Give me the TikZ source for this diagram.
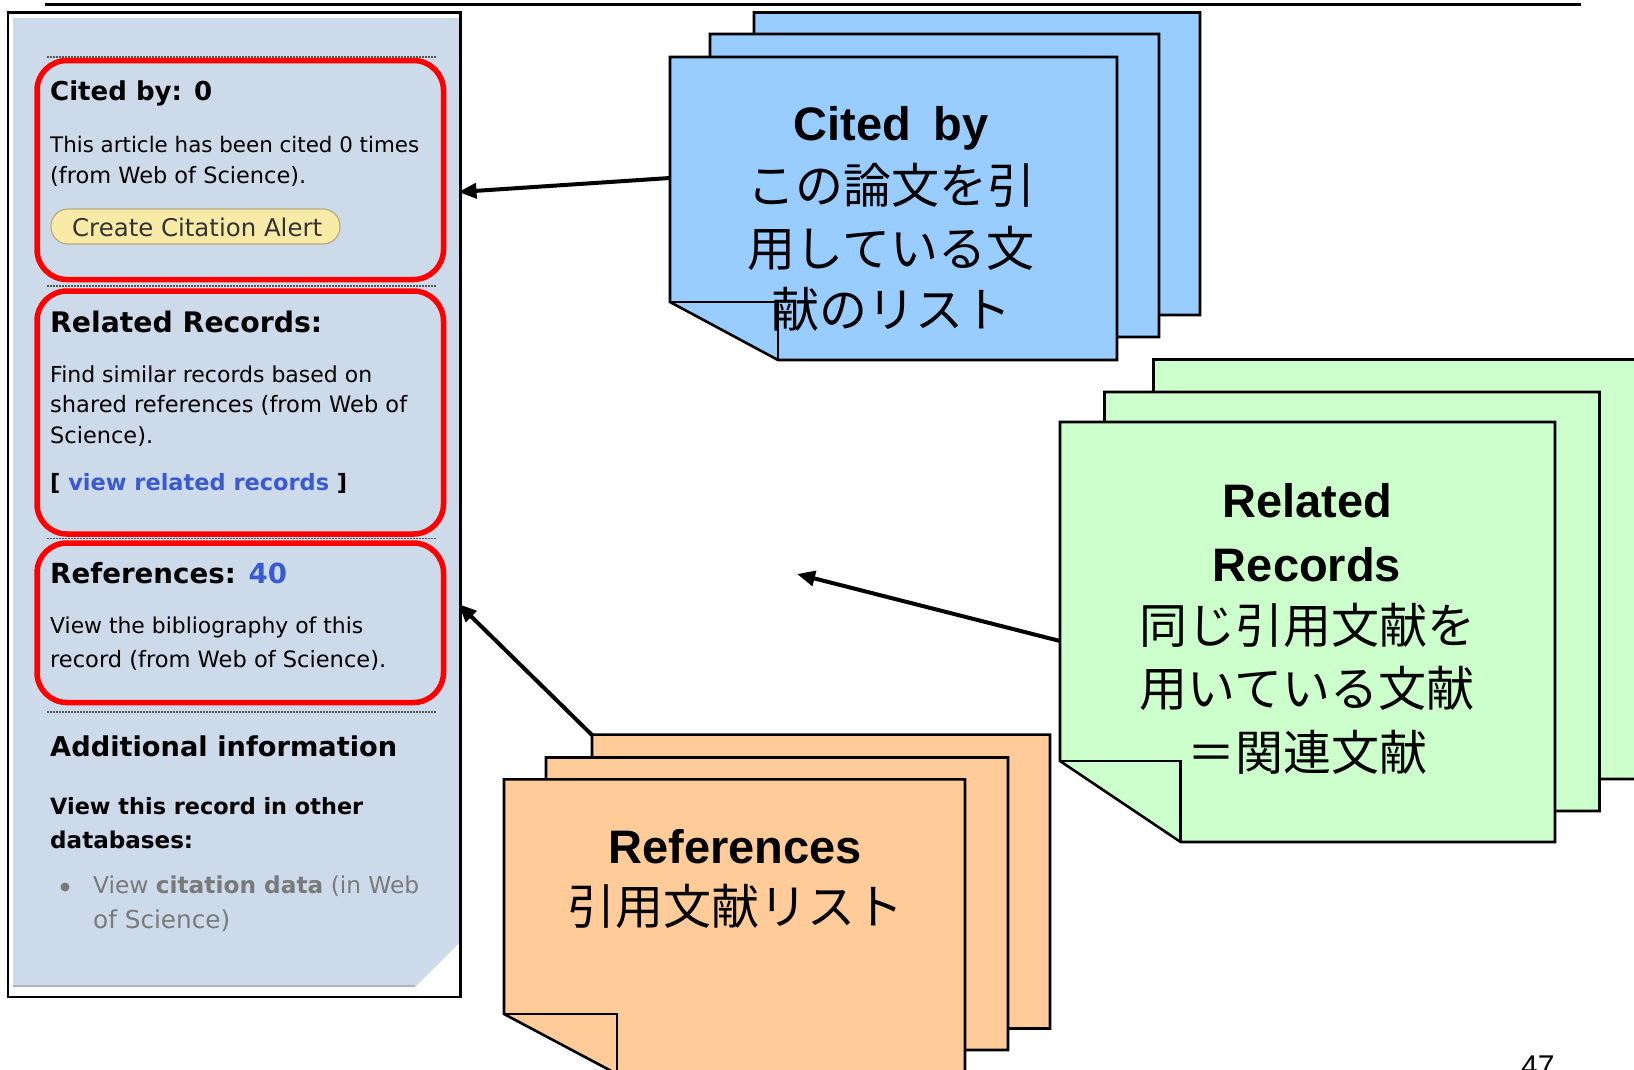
\documentclass[tikz,border=0pt]{standalone}
\usepackage{fontspec}
\usepackage{graphicx}
\usetikzlibrary{arrows.meta}
\setmainfont{DejaVu Sans}
\newfontfamily\jpfont{Noto Sans CJK JP}
\newfontfamily\latfont{Liberation Sans}
\definecolor{panelbg}{HTML}{CCDAEA}
\definecolor{sheetblue}{HTML}{99CCFF}
\definecolor{sheetgreen}{HTML}{CCFFCC}
\definecolor{sheetorange}{HTML}{FFCC99}
\definecolor{linkblue}{HTML}{3A5BD0}
\definecolor{btnA}{HTML}{F8EBA8}
\definecolor{btnB}{HTML}{FFFDF0}
\definecolor{btnborder}{HTML}{B8AC80}
\definecolor{btntext}{HTML}{333333}
\definecolor{softgray}{HTML}{7A7A7A}
\definecolor{dotgray}{HTML}{555555}
\newcommand{\fitw}[2]{\resizebox{#1pt}{!}{#2}}
\begin{document}
\begin{tikzpicture}[x=1pt,y=-1pt,
  ptxt/.style={anchor=base west, inner sep=0pt, font=\fontsize{20}{24}\selectfont},
  sheet/.style={draw=black, line width=2.6pt, line join=miter},
  lattxt/.style={anchor=base, inner sep=0pt, font=\latfont\bfseries\fontsize{47}{50}\selectfont},
  jptxt/.style={anchor=base, inner sep=0pt, font=\jpfont\fontsize{48}{50}\selectfont},
  conn/.style={line width=4pt, -{Triangle[length=18pt,width=15pt]}},
  redbox/.style={draw=red, line width=5.5pt, rounded corners=30pt},
  dots/.style={draw=dotgray, line width=1.5pt, dash pattern=on 1.5pt off 1.5pt}
]
\useasboundingbox (0,0) rectangle (1634,1069);
\clip (0,0) rectangle (1634,1069);

% top rule
\draw[line width=3pt] (45,4) -- (1581,4);

% ---------- left panel ----------
\draw[line width=2.2pt, fill=white] (8,12.5) rectangle (460.5,997);
\fill[panelbg] (13,18) -- (459.5,18) -- (459.5,943) -- (415,987) -- (13,987) -- cycle;
\draw[gray!60, line width=1.5pt] (13,986) -- (415,986);
\draw[line width=2.2pt] (460.5,12.5) -- (460.5,997);

\draw[dots] (47,57) -- (437,57);
\draw[dots] (47,286) -- (437,286);
\draw[dots] (47,538.5) -- (437,538.5);
\draw[dots] (47,712) -- (437,712);

\draw[redbox] (37,60.5) rectangle (443.5,279.5);
\draw[redbox] (37,291) rectangle (443.5,534);
\draw[redbox] (37,543) rectangle (443.5,702.5);

\node[ptxt] (h1) at (50,100) {\fitw{162}{\bfseries Cited by: 0}};
\node[ptxt] (l1a) at (50,152) {\fitw{369}{This article has been cited 0 times}};
\node[ptxt] (l1b) at (50,183) {\fitw{256}{(from Web of Science).}};
\path[draw=btnborder, line width=1.2pt, top color=btnA, middle color=btnB, bottom color=btnA, rounded corners=17pt] (51,209) rectangle (340,244);
\node[ptxt] (btn) at (72,236) {\fitw{250}{\color{btntext}Create Citation Alert}};

\node[ptxt] (h2) at (50,332) {\fitw{272}{\bfseries Related Records:}};
\node[ptxt] (l2a) at (50,382) {\fitw{322}{Find similar records based on}};
\node[ptxt] (l2b) at (50,412) {\fitw{357}{shared references (from Web of}};
\node[ptxt] (l2c) at (50,443) {\fitw{103}{Science).}};
\node[ptxt] (l2d) at (50,490) {\fitw{297}{\bfseries [ \textcolor{linkblue}{view related records} ]}};

\node[ptxt] (h3) at (50,583) {\fitw{237}{\bfseries References: \textcolor{linkblue}{40}}};
\node[ptxt] (l3a) at (50,633) {\fitw{313}{View the bibliography of this}};
\node[ptxt] (l3b) at (50,667) {\fitw{336}{record (from Web of Science).}};

\node[ptxt] (h4) at (50,756) {\fitw{347}{\bfseries Additional information}};
\node[ptxt] (l4a) at (50,814) {\fitw{313}{\bfseries View this record in other}};
\node[ptxt] (l4b) at (50,848) {\fitw{143}{\bfseries databases:}};
\fill[softgray] (65,887) circle (4.5);
\node[ptxt] (l4c) at (93,893) {\fitw{326}{\color{softgray}View \textbf{citation data} (in Web}};
\node[ptxt] (l4d) at (93,928) {\fitw{137}{\color{softgray}of Science)}};

\coordinate (tipCited) at (458.5,192);
\coordinate (tipRelated) at (797,574);
\coordinate (tipRefs) at (458.5,604);

% ---------- blue sheets ----------
\path[sheet, fill=sheetblue] (754,12.5) -- (1200,12.5) -- (1200,315) -- (862,315) -- (754,257) -- cycle;
\path[sheet, fill=sheetblue] (710,34) -- (1159,34) -- (1159,337) -- (818,337) -- (710,279) -- cycle;
\path[sheet, fill=sheetblue] (670,57) -- (1117,57) -- (1117,360) -- (778,360) -- (670,302) -- cycle;
\draw[line width=2.6pt] (670,302) -- (778,302) -- (778,360);
\coordinate (startCited) at (670,178);
\node[lattxt] (c1) at (891,140) {Cited\hspace{22pt}by};
\node[jptxt] (c2) at (891,203.5) {この論文を引};
\node[jptxt] (c3) at (891,266) {用している文};
\node[jptxt] (c4) at (891,327.5) {献のリスト};

% ---------- green sheets ----------
\path[sheet, fill=sheetgreen] (1153.5,359.5) -- (1660,359.5) -- (1660,779) -- (1274,779) -- (1153.5,698) -- cycle;
\path[sheet, fill=sheetgreen] (1104.5,392) -- (1599.5,392) -- (1599.5,811) -- (1225,811) -- (1104.5,730) -- cycle;
\path[sheet, fill=sheetgreen] (1060,422) -- (1555,422) -- (1555,842) -- (1180.6,842) -- (1060,761) -- cycle;
\draw[line width=2.6pt] (1060,761) -- (1180.6,761) -- (1180.6,842);
\coordinate (startRelated) at (1060,641);
\node[lattxt] (g1) at (1307,517) {Related};
\node[lattxt] (g2) at (1307,581) {Records};
\node[jptxt] (g3) at (1307,643) {同じ引用文献を};
\node[jptxt] (g4) at (1307,706) {用いている文献};
\node[jptxt] (g5) at (1307,770) {＝関連文献};

% ---------- orange sheets ----------
\path[sheet, fill=sheetorange] (592,734.6) -- (1050,734.6) -- (1050,1028.5) -- (705,1028.5) -- (592,968.5) -- cycle;
\path[sheet, fill=sheetorange] (546,757.5) -- (1008,757.5) -- (1008,1050) -- (659,1050) -- (546,990) -- cycle;
\path[sheet, fill=sheetorange] (504,779.4) -- (965,779.4) -- (965,1074) -- (617,1074) -- (504,1014) -- cycle;
\draw[line width=2.6pt] (504,1014) -- (617,1014) -- (617,1074);
\coordinate (startRefs) at (592,735);
\node[lattxt] (o1) at (735,863) {References};
\node[jptxt] (o2) at (735,924.5) {引用文献リスト};

% ---------- connectors ----------
\draw[conn] (startCited) -- (tipCited);
\draw[conn] (startRelated) -- (tipRelated);
\draw[conn] (startRefs) -- (tipRefs);

% page number
\node[anchor=base west, inner sep=0pt, font=\latfont\fontsize{30}{30}\selectfont] (pg) at (1521,1076) {47};
\end{tikzpicture}
\end{document}
